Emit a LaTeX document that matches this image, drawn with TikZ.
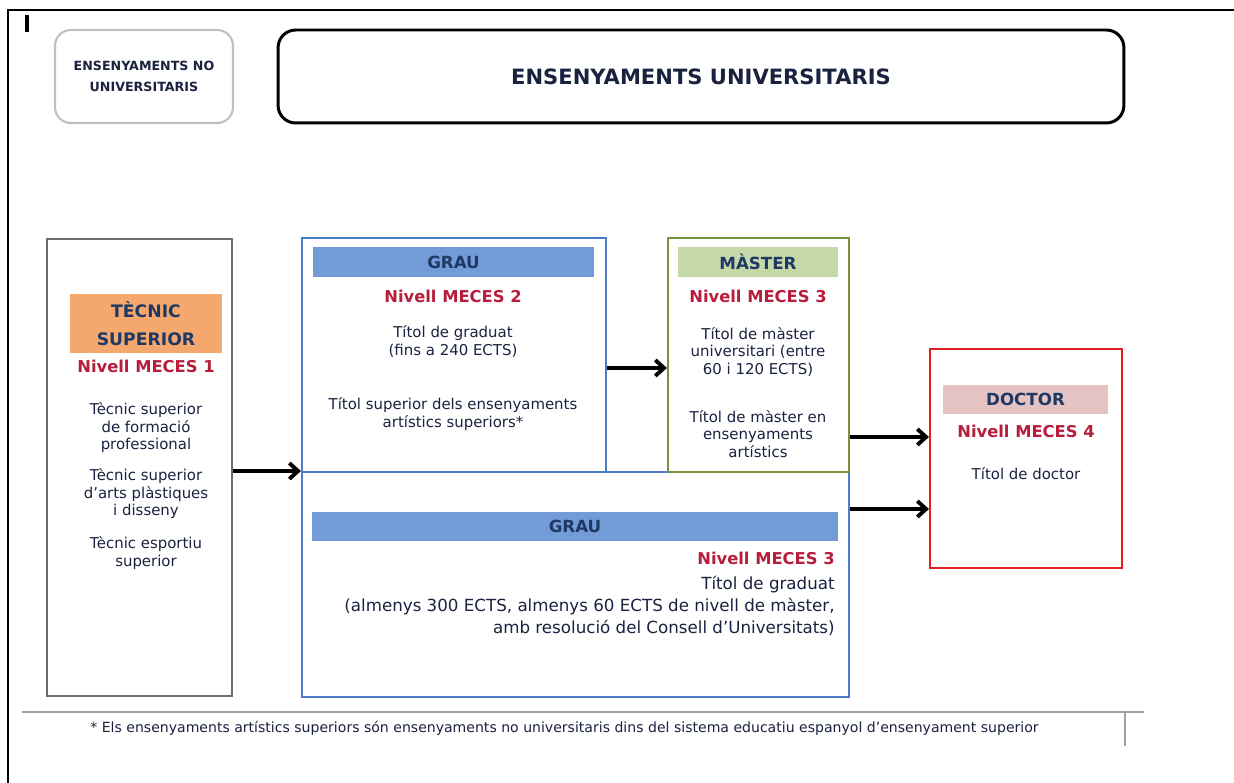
\documentclass[tikz,border=0pt]{standalone}
\usepackage{fontspec}
\setmainfont{DejaVu Sans}
\usepackage{xcolor}
\usetikzlibrary{arrows.meta}

\definecolor{navytext}{HTML}{1A2240}
\definecolor{headblue}{HTML}{1F3864}
\definecolor{mecesred}{HTML}{B81E3C}
\definecolor{nogray}{HTML}{BFBFBF}
\definecolor{tecgray}{HTML}{6E6E6E}
\definecolor{graublue}{HTML}{4A7CC9}
\definecolor{mastergreen}{HTML}{77933C}
\definecolor{doctorred}{HTML}{E02020}
\definecolor{tecorange}{HTML}{F5A86E}
\definecolor{graufill}{HTML}{729BD8}
\definecolor{masterfill}{HTML}{C5D9A8}
\definecolor{doctorfill}{HTML}{E6C3C3}
\definecolor{footgray}{HTML}{A0A0A0}

\tikzset{
  box/.style={draw, line width=1.2pt, inner sep=0pt},
  headbar/.style={inner sep=0pt, font=\fontsize{9.5}{11}\selectfont\bfseries, text=headblue},
  meces/.style={inner sep=0pt, font=\fontsize{9.3}{11}\selectfont\bfseries, text=mecesred},
  body/.style={inner sep=0pt, font=\fontsize{8.5}{10}\selectfont, text=navytext, align=center},
  arr/.style={-{Straight Barb[length=5pt,width=9pt]}, line width=2.2pt}
}

\begin{document}
\begin{tikzpicture}[x=0.02cm, y=-0.02cm]
\useasboundingbox (0,0) rectangle (1234,783);
% frame
\draw[line width=1.2pt] (8,783) -- (8,10) -- (1234,10);
\draw[line width=1.8pt] (27,15) -- (27,32);

% top boxes
\node[box, draw=nogray, rounded corners=9pt, minimum width=3.56cm, minimum height=1.86cm,
  align=center, font=\fontsize{7.2}{12}\selectfont\bfseries, text=navytext] (nouni) at (144,76.5)
  {ENSENYAMENTS NO\\UNIVERSITARIS};
\node[box, line width=1.7pt, rounded corners=10pt, minimum width=16.92cm, minimum height=1.86cm,
  font=\fontsize{12}{14}\selectfont\bfseries, text=navytext] (uni) at (701,76.5)
  {ENSENYAMENTS UNIVERSITARIS};

% big boxes
\node[box, draw=tecgray, minimum width=3.7cm, minimum height=9.14cm] (tecnic) at (139.5,467.5) {};
\node[box, draw=graublue, minimum width=10.94cm, minimum height=4.5cm] (grau2) at (575.5,584.5) {};
\node[box, draw=graublue, minimum width=6.08cm, minimum height=4.68cm] (grau1) at (454,355) {};
\node[box, draw=mastergreen, minimum width=3.62cm, minimum height=4.68cm] (master) at (758.5,355) {};
\node[box, draw=doctorred, minimum width=3.84cm, minimum height=4.38cm] (doctor) at (1026,458.5) {};

% headers
\node[headbar, fill=tecorange, minimum width=3.04cm, minimum height=1.18cm, align=center,
  font=\fontsize{9.8}{16}\selectfont\bfseries] (tech) at (146,323.5) {TÈCNIC\\SUPERIOR};
\node[headbar, fill=graufill, minimum width=5.62cm, minimum height=0.6cm] (grau1h) at (453.5,262) {GRAU};
\node[headbar, fill=masterfill, minimum width=3.2cm, minimum height=0.6cm] (masterh) at (758,262) {MÀSTER};
\node[headbar, fill=graufill, minimum width=10.52cm, minimum height=0.58cm] (grau2h) at (575,526.5) {GRAU};
\node[headbar, fill=doctorfill, minimum width=3.3cm, minimum height=0.58cm] (doctorh) at (1025.5,399.5) {DOCTOR};

% levels
\node[meces] (tecm) at (146,366) {Nivell MECES 1};
\node[meces] (grau1m) at (453,296) {Nivell MECES 2};
\node[meces] (masterm) at (758,296) {Nivell MECES 3};
\node[meces] (doctorm) at (1026,431) {Nivell MECES 4};
\node[meces, anchor=east] (grau2m) at (835,558) {Nivell MECES 3};

% titles
\node[body] (tec1) at (146,428) {Tècnic superior\\de formació\\professional};
\node[body] (tec2) at (146,494) {Tècnic superior\\d'arts plàstiques\\i disseny};
\node[body] (tec3) at (146,553) {Tècnic esportiu\\superior};
\node[body] (grau1a) at (453,341.5) {Títol de graduat\\(fins a 240 ECTS)};
\node[body] (grau1b) at (453,414) {Títol superior dels ensenyaments\\artístics superiors*};
\node[body] (mastera) at (758,352) {Títol de màster\\universitari (entre\\60 i 120 ECTS)};
\node[body] (masterb) at (758,434) {Títol de màster en\\ensenyaments\\artístics};
\node[body] (doctora) at (1026,474) {Títol de doctor};
\node[body, align=right, anchor=east, font=\fontsize{9.5}{12.5}\selectfont] (grau2a) at (835,606)
  {Títol de graduat\\(almenys 300 ECTS, almenys 60 ECTS de nivell de màster,\\amb resolució del Consell d'Universitats)};

% arrows
\draw[arr] (tecnic.east |- 0,471) -- (grau1.west |- 0,471);
\draw[arr] (grau1.east |- 0,368) -- (master.west |- 0,368);
\draw[arr] (master.east |- 0,437) -- (doctor.west |- 0,437);
\draw[arr] (grau2.east |- 0,509) -- (doctor.west |- 0,509);

% footnote
\draw[footgray, line width=1pt] (22,712) -- (1144,712);
\draw[footgray, line width=1pt] (1125,712) -- (1125,746);
\node[anchor=west, inner sep=0pt, font=\fontsize{8}{9}\selectfont, text=navytext] (foot) at (90,728)
  {* Els ensenyaments artístics superiors són ensenyaments no universitaris dins del sistema educatiu espanyol d'ensenyament superior};
\end{tikzpicture}
\end{document}
